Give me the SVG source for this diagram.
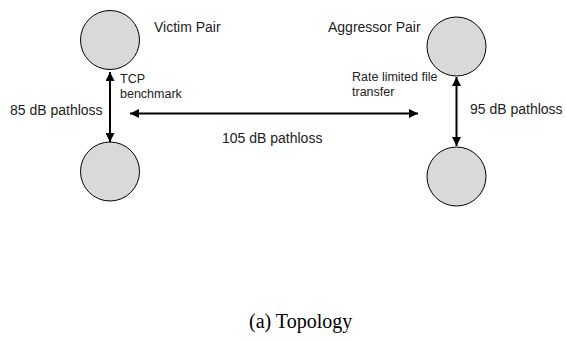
<svg xmlns="http://www.w3.org/2000/svg" width="566" height="340" viewBox="0 0 566 340">
<style>
.node{fill:#d9d9d9;stroke:#000;stroke-width:1}
.lbl{font-family:"Liberation Sans",Arial,sans-serif;font-size:14px;fill:#222}
.sm{font-family:"Liberation Sans",Arial,sans-serif;font-size:12.5px;fill:#222}
.cap{font-family:"Liberation Serif","Times New Roman",serif;font-size:20px;fill:#000}
.link{stroke:#000;stroke-width:2;fill:none;marker-start:url(#ah);marker-end:url(#ah)}
</style>
<defs>
<marker id="ah" viewBox="0 0 10 10" refX="10" refY="5" markerWidth="4.5" markerHeight="4.5" orient="auto-start-reverse" markerUnits="strokeWidth">
<path d="M0,0 L10,5 L0,10 z" fill="#000"/>
</marker>
</defs>
<g id="victim-top"><circle class="node" cx="110" cy="40" r="29.5"/></g>
<g id="victim-bottom"><circle class="node" cx="110" cy="171.5" r="29.5"/></g>
<g id="aggressor-top"><circle class="node" cx="456.5" cy="46.5" r="29.5"/></g>
<g id="aggressor-bottom"><circle class="node" cx="456.5" cy="176.5" r="29.5"/></g>
<g id="connectors">
<line class="link" x1="110" y1="72" x2="110" y2="142"/>
<line class="link" x1="456.5" y1="77" x2="456.5" y2="146"/>
<line class="link" x1="130" y1="113.5" x2="418" y2="113.5"/>
</g>
<g id="labels">
<text class="lbl" x="154" y="32">Victim Pair</text>
<text class="lbl" x="328" y="32">Aggressor Pair</text>
<text class="sm" x="120" y="83">TCP</text>
<text class="sm" x="120" y="98">benchmark</text>
<text class="sm" x="352" y="81">Rate limited file</text>
<text class="sm" x="352" y="96">transfer</text>
<text class="lbl" x="10" y="115">85 dB pathloss</text>
<text class="lbl" x="470" y="114">95 dB pathloss</text>
<text class="lbl" x="222" y="143">105 dB pathloss</text>
<text class="cap" x="249" y="328">(a) Topology</text>
</g>
</svg>
